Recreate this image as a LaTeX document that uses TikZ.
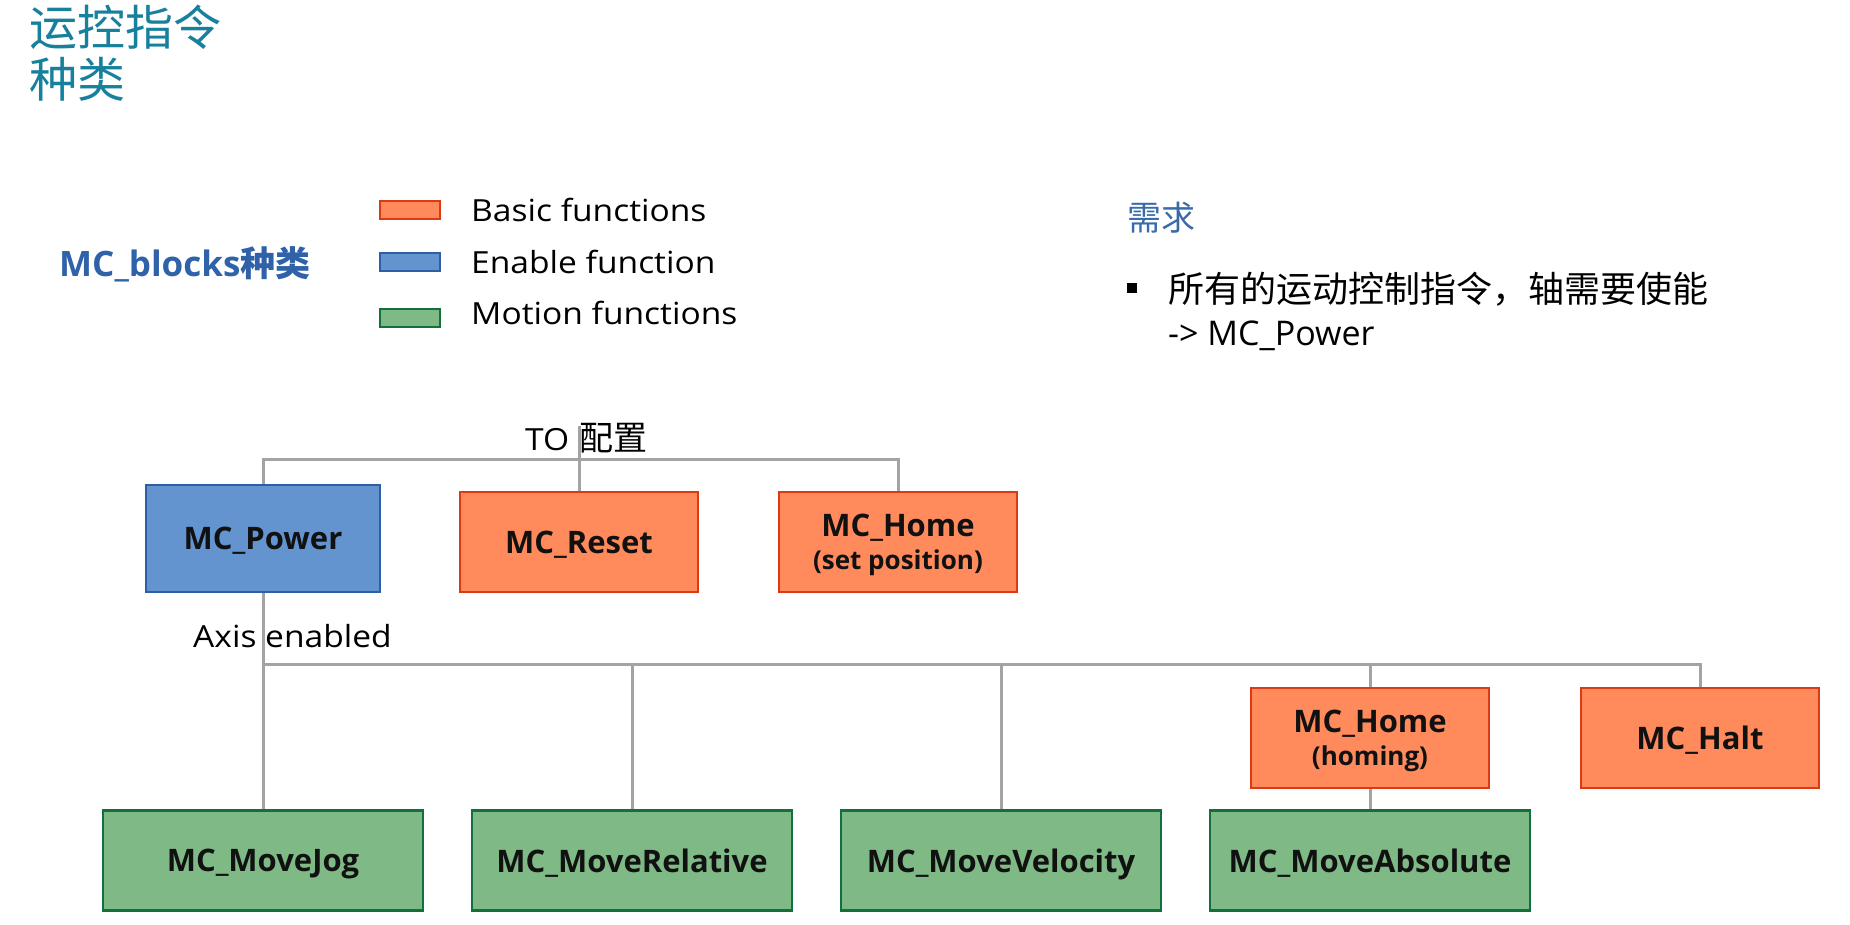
\documentclass[tikz,border=0pt]{standalone}
\usepackage{fontspec}
\setmainfont{Open Sans}
\newfontfamily\widefont{Open Sans}[FakeStretch=1.1]
\newfontfamily\cjk{Noto Sans CJK SC}
\usetikzlibrary{positioning}
\definecolor{mcTeal}{HTML}{17809C}
\definecolor{mcBlue}{HTML}{2F62A8}
\definecolor{mcHead}{HTML}{3A6AA8}
\definecolor{mcOrange}{HTML}{FF8A5C}
\definecolor{mcOrangeLine}{HTML}{DB3A12}
\definecolor{mcBlueFill}{HTML}{6394D0}
\definecolor{mcBlueLine}{HTML}{2E5FA4}
\definecolor{mcGreen}{HTML}{7FBA86}
\definecolor{mcGreenLine}{HTML}{13703E}
\definecolor{mcGray}{HTML}{A3A3A3}
\definecolor{mcInk}{HTML}{111111}

\begin{document}
\begin{tikzpicture}[x=1pt,y=-1pt,inner sep=0pt]
\path[fill=white] (0,0) rectangle (1850,925);
\tikzset{fbox/.style={line width=2.2pt,minimum width=238pt,minimum height=100pt,align=center,text depth=0pt,text=mcInk,font=\bfseries\fontsize{31}{33}\selectfont},
  basic/.style={fbox,draw=mcOrangeLine,fill=mcOrange},enable/.style={fbox,draw=mcBlueLine,fill=mcBlueFill},
  motion/.style={fbox,draw=mcGreenLine,fill=mcGreen,minimum width=320pt},
  key/.style={line width=2pt,minimum width=60pt,minimum height=18pt},keytext/.style={right=30pt of #1,font=\widefont\fontsize{30.5}{36}\selectfont},
  link/.style={draw=mcGray,line width=3pt},note/.style={font=\widefont\fontsize{30.5}{36}\selectfont}}
% heading
\node[anchor=north west,align=left,text=mcTeal,font=\cjk\fontsize{48}{52}\selectfont] (title) at (29,5) {运控指令\\种类};
\node[anchor=west,text=mcBlue,font=\bfseries\fontsize{35}{40}\selectfont] (blocks) at (59,264) {MC\_blocks{\cjk 种类}};
% legend
\node[key,draw=mcOrangeLine,fill=mcOrange] (keybasic) at (410,210) {};
\node[key,draw=mcBlueLine,fill=mcBlueFill] (keyenable) at (410,262) {};
\node[key,draw=mcGreenLine,fill=mcGreen] (keymotion) at (410,318) {};
\node[keytext=keybasic] (txtbasic) {Basic functions};
\node[keytext=keyenable] (txtenable) {Enable function};
\node[keytext=keymotion,yshift=5pt] (txtmotion) {Motion functions};
% requirement
\node[anchor=west,text=mcHead,font=\cjk\fontsize{34}{40}\selectfont] (needhead) at (1127,218) {需求};
\node[fill=black,minimum size=10pt] (bullet) at (1132,288) {};
\node[anchor=west,align=left,font=\fontsize{34}{43}\selectfont] (needtext) at (1168,311) {{\cjk\fontsize{36}{43}\selectfont 所有的运动控制指令，轴需要使能}\\-> MC\_Power};
% blocks
\node[enable,minimum width=234pt,minimum height=107pt] (power) at (263,538.5) {MC\_Power};
\node[basic] (reset) at (579,542) {MC\_Reset};
\node[basic] (sethome) at (898,542) {MC\_Home\\{\fontsize{26}{33}\selectfont (set position)}};
\node[basic] (homing) at (1370,738) {MC\_Home\\{\fontsize{26}{33}\selectfont (homing)}};
\node[basic] (halt) at (1700,738) {MC\_Halt};
\node[motion] (jog) at (263,860.5) {MC\_MoveJog};
\node[motion] (rel) at (632,860.5) {MC\_MoveRelative};
\node[motion] (vel) at (1001,860.5) {MC\_MoveVelocity};
\node[motion] (abs) at (1370,860.5) {MC\_MoveAbsolute};
% tree
\path (power.north) ++(0,-24) coordinate (tobus);
\coordinate (tocfg) at (reset.north |- 0,426);
\draw[link] (power.north) -- (tobus) -| (sethome.north);
\draw[link] (tocfg) -- (reset.north);
\path (power.south) ++(0,71) coordinate (axisbus);
\draw[link] (power.south) -- (jog.north);
\draw[link] (axisbus) -| (halt.north);
\foreach \n in {rel,vel,homing} \draw[link] (\n.north) -- (\n.north |- axisbus);
\draw[link] (homing.south) -- (abs.north);
\node[note,anchor=base west] (tolabel) at (525,450) {TO\hspace{10pt}{\cjk\fontsize{34}{40}\selectfont 配置}};
\node[note,anchor=base west] (axislabel) at (193,647) {Axis enabled};
\end{tikzpicture}
\end{document}
